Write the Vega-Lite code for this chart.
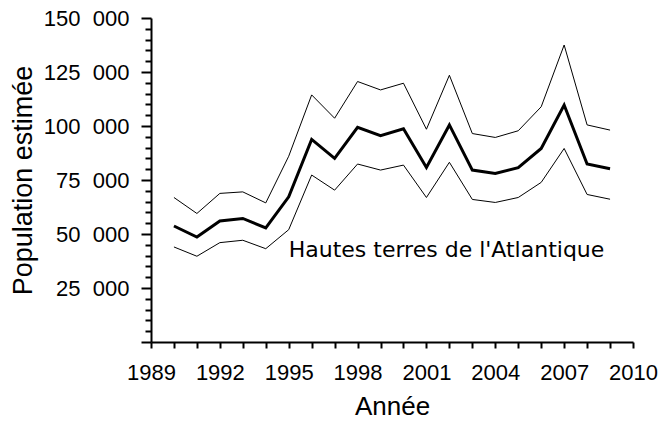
{
  "$schema": "https://vega.github.io/schema/vega-lite/v6.json",
  "width": 482,
  "height": 324,
  "autosize": "none",
  "padding": {"left": 151, "top": 18, "right": 26, "bottom": 83},
  "background": "white",
  "config": {
    "view": {"stroke": null},
    "font": "Liberation Sans",
    "axis": {
      "domainColor": "black",
      "domainWidth": 2,
      "tickColor": "black",
      "tickWidth": 2,
      "labelColor": "black",
      "titleColor": "black",
      "labelFont": "Liberation Sans",
      "titleFont": "Liberation Sans",
      "titleFontWeight": "normal",
      "grid": false,
      "labelOverlap": false,
      "labelFlush": false
    }
  },
  "encoding": {
    "x": {
      "field": "year", "type": "quantitative",
      "scale": {"domain": [1989, 2010], "nice": false, "zero": false},
      "axis": {
        "title": "Année",
        "titleFontSize": 26,
        "titlePadding": 10,
        "values": [1989,1990,1991,1992,1993,1994,1995,1996,1997,1998,1999,2000,2001,2002,2003,2004,2005,2006,2007,2008,2009,2010],
        "labelExpr": "datum.value % 3 === 0 ? format(datum.value, 'd') : ''",
        "labelFontSize": 22,
        "tickSize": 6,
        "labelPadding": 14
      }
    },
    "y": {
      "field": "value", "type": "quantitative",
      "scale": {"domain": [0, 150000], "nice": false},
      "axis": {
        "title": "Population estimée",
        "titleFontSize": 27,
        "titlePadding": 6,
        "values": [0,5000,10000,15000,20000,25000,30000,35000,40000,45000,50000,55000,60000,65000,70000,75000,80000,85000,90000,95000,100000,105000,110000,115000,120000,125000,130000,135000,140000,145000,150000],
        "labelExpr": "datum.value % 25000 === 0 && datum.value > 0 ? replace(format(datum.value, ','), ',', '\u2007') : ''",
        "labelFontSize": 22,
        "tickSize": {"condition": {"test": "datum.value % 25000 === 0", "value": 10}, "value": 6},
        "labelPadding": 12
      }
    }
  },
  "layer": [
    {
      "data": {
        "values": [
          {"year": 1990, "est": 53700, "low": 44000, "high": 66900},
          {"year": 1991, "est": 48600, "low": 39700, "high": 59500},
          {"year": 1992, "est": 56000, "low": 46000, "high": 68800},
          {"year": 1993, "est": 57200, "low": 47100, "high": 69500},
          {"year": 1994, "est": 52800, "low": 43200, "high": 64400},
          {"year": 1995, "est": 67200, "low": 52000, "high": 86000},
          {"year": 1996, "est": 93800, "low": 77300, "high": 114400},
          {"year": 1997, "est": 85000, "low": 70300, "high": 103600},
          {"year": 1998, "est": 99400, "low": 82400, "high": 120600},
          {"year": 1999, "est": 95500, "low": 79600, "high": 116700},
          {"year": 2000, "est": 98700, "low": 81900, "high": 119800},
          {"year": 2001, "est": 80800, "low": 66900, "high": 98500},
          {"year": 2002, "est": 100500, "low": 83200, "high": 123500},
          {"year": 2003, "est": 79600, "low": 66000, "high": 96500},
          {"year": 2004, "est": 78000, "low": 64600, "high": 94700},
          {"year": 2005, "est": 80700, "low": 66900, "high": 97800},
          {"year": 2006, "est": 89600, "low": 73900, "high": 108900},
          {"year": 2007, "est": 109700, "low": 89600, "high": 137500},
          {"year": 2008, "est": 82400, "low": 68300, "high": 100500},
          {"year": 2009, "est": 80200, "low": 66100, "high": 98100}
        ]
      },
      "transform": [{"fold": ["low", "high", "est"], "as": ["series", "value"]}],
      "mark": {"type": "line", "color": "black"},
      "encoding": {
        "detail": {"field": "series", "type": "nominal"},
        "strokeWidth": {"condition": {"test": "datum.series === 'est'", "value": 3}, "value": 1}
      }
    },
    {
      "data": {"values": [{"year": 1995, "value": 39200, "label": "Hautes terres de l'Atlantique"}]},
      "mark": {"type": "text", "align": "left", "baseline": "alphabetic", "fontSize": 22, "font": "DejaVu Sans", "color": "black"},
      "encoding": {
        "text": {"field": "label"}
      }
    }
  ]
}
